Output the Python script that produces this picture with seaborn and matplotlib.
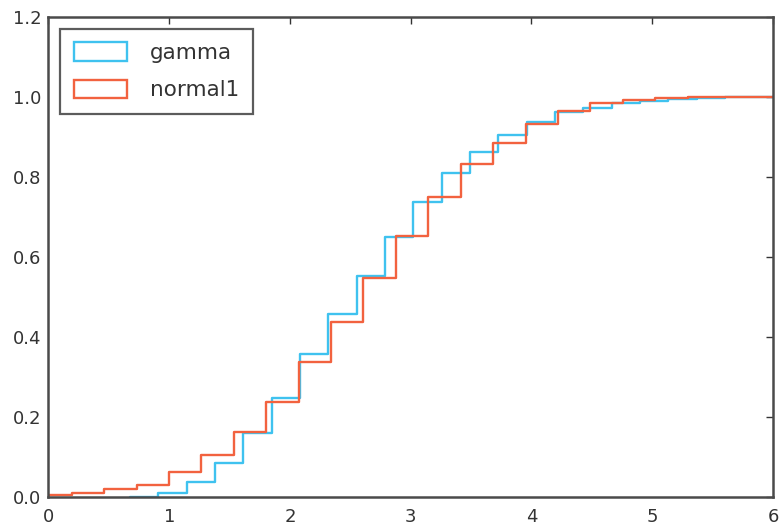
import numpy as np
import pandas as pd
import matplotlib
matplotlib.use("Agg")
import matplotlib.pyplot as plt
from matplotlib.patches import Patch
import seaborn as sns

# ---- data (cumulative fraction per bin) ----
gamma_edges = [0.675, 0.910, 1.145, 1.379, 1.614, 1.849, 2.084, 2.318, 2.553,
               2.788, 3.022, 3.257, 3.492, 3.726, 3.961, 4.196, 4.430, 4.665,
               4.900, 5.134, 5.369, 5.604, 5.838, 6.073]
gamma_cum = [0.001, 0.010, 0.038, 0.084, 0.159, 0.247, 0.357, 0.457, 0.552,
             0.651, 0.738, 0.811, 0.863, 0.905, 0.938, 0.962, 0.972, 0.986,
             0.991, 0.995, 0.998, 0.999, 1.000]

normal_edges = [-0.0765, 0.192, 0.4605, 0.729, 0.9975, 1.266, 1.5345, 1.803,
                2.0715, 2.340, 2.6085, 2.877, 3.1455, 3.414, 3.6825, 3.951,
                4.2195, 4.488, 4.757, 5.025, 5.294, 5.560, 5.830, 6.100]
normal_cum = [0.004, 0.010, 0.020, 0.030, 0.063, 0.106, 0.163, 0.237, 0.337,
              0.438, 0.547, 0.652, 0.751, 0.832, 0.886, 0.933, 0.966, 0.986,
              0.992, 0.998, 0.999, 1.000, 1.000]

labels = ["gamma", "normal1"]
colors = ["#3fc2ef", "#f2623f"]

x_ticks = [0, 1, 2, 3, 4, 5, 6]
y_ticks = [0.0, 0.2, 0.4, 0.6, 0.8, 1.0, 1.2]

sns.set_style("white")
plt.rcParams["font.family"] = ["DejaVu Sans"]

fig = plt.figure(figsize=(7.82, 5.29), dpi=100)
ax = fig.add_axes([0.062, 0.0605, 0.9265, 0.9075])

series = [(gamma_edges, gamma_cum), (normal_edges, normal_cum)]
for (edges, cum), lab, col in zip(series, labels, colors):
    df = pd.DataFrame({"x": edges[:-1], "w": cum})
    sns.histplot(data=df, x="x", weights="w", bins=edges, element="step",
                 fill=False, color=col, linewidth=1.7, ax=ax)

ax.set_xlim(0, 6)
ax.set_ylim(0, 1.2)
ax.set_xticks(x_ticks)
ax.set_yticks(y_ticks)
ax.set_xticklabels([str(t) for t in x_ticks])
ax.set_yticklabels([f"{t:.1f}" for t in y_ticks])
ax.set_xlabel("")
ax.set_ylabel("")
ax.tick_params(direction="in", length=5, width=1, top=True, right=True,
               labelsize=13, colors="#333333")
ax.tick_params(axis="x", pad=8)
ax.tick_params(axis="y", pad=5)
for s in ax.spines.values():
    s.set_color("#4a4a4a")
    s.set_linewidth(1.8)
    s.set_visible(True)

handles = [Patch(facecolor="none", edgecolor=c, linewidth=1.7, label=l)
           for c, l in zip(colors, labels)]
leg = ax.legend(handles=handles, loc="upper left", fontsize=15.5,
                frameon=True, fancybox=False, borderpad=0.62,
                handlelength=2.5, handleheight=0.95, handletextpad=1.05,
                labelspacing=0.78, borderaxespad=0.55)
leg.get_frame().set_edgecolor("#333333")
leg.get_frame().set_linewidth(1.6)
for t in leg.get_texts():
    t.set_color("#333333")

fig.savefig("out.png", dpi=100)
